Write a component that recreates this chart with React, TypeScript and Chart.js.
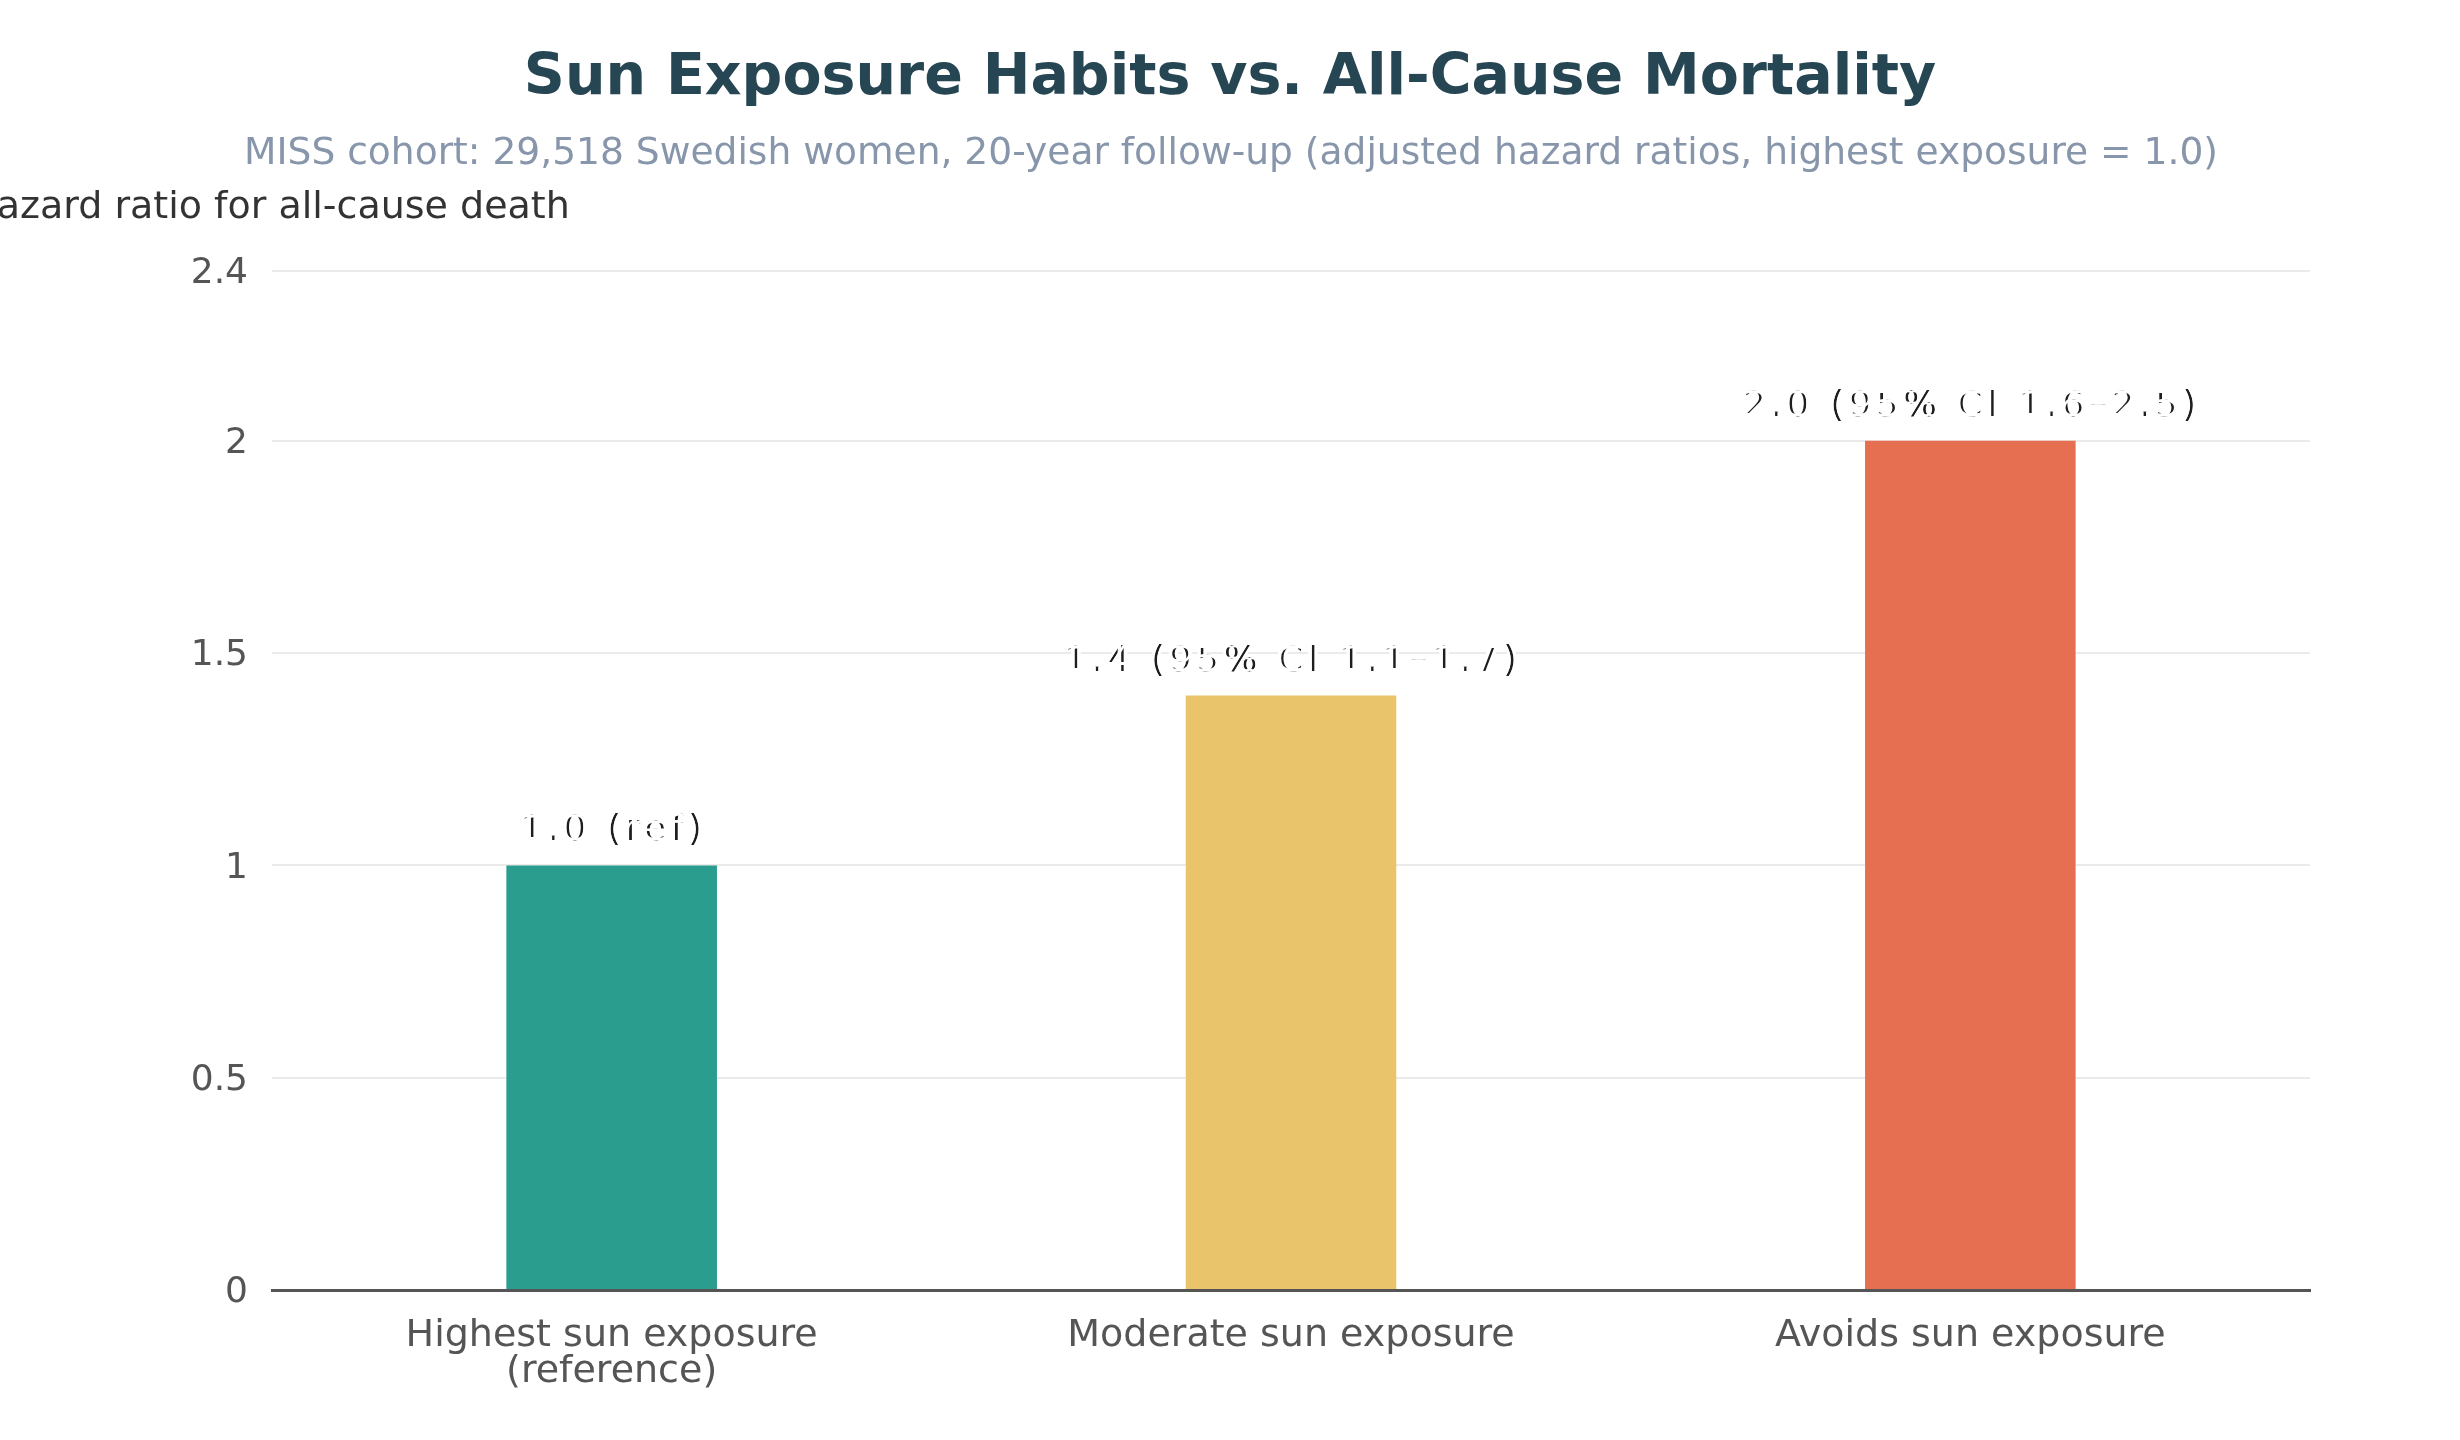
import { useEffect, useRef } from 'react';
import { Chart, registerables } from 'chart.js';

Chart.register(...registerables);

const categories = [['Highest sun exposure', '(reference)'], 'Moderate sun exposure', 'Avoids sun exposure'];
const hazardRatios = [1.0, 1.4, 2.0];
const barLabels = ['1.0 (ref)', '1.4 (95% CI 1.1–1.7)', '2.0 (95% CI 1.6–2.5)'];
const barColors = ['#2a9d8f', '#e9c46a', '#e76f51'];

const titleText = 'Sun Exposure Habits vs. All-Cause Mortality';
const subtitleText = 'MISS cohort: 29,518 Swedish women, 20-year follow-up (adjusted hazard ratios, highest exposure = 1.0)';
const yTitleText = 'Hazard ratio for all-cause death';
const yMax = 2.4;
const yStep = 0.5;

const FONT = '"DejaVu Sans", Verdana, sans-serif';

// titles + horizontal y-axis title
const headerPlugin = {
  id: 'header',
  afterDraw(chart: Chart) {
    const { ctx, chartArea } = chart;
    const cx = chart.width / 2;
    ctx.save();
    ctx.textAlign = 'center';
    ctx.textBaseline = 'alphabetic';
    ctx.fillStyle = '#264653';
    ctx.font = `bold 57px ${FONT}`;
    ctx.fillText(titleText, cx, 94);
    ctx.fillStyle = '#8896ab';
    ctx.font = `37.6px ${FONT}`;
    ctx.fillText(subtitleText, cx + 1, 164);
    ctx.fillStyle = '#333333';
    ctx.font = `38px ${FONT}`;
    ctx.fillText(yTitleText, chartArea.left - 3, 218);
    ctx.restore();
  },
};

// value labels above bars
const barLabelPlugin = {
  id: 'barLabels',
  afterDatasetsDraw(chart: Chart) {
    const { ctx } = chart;
    const meta = chart.getDatasetMeta(0);
    ctx.save();
    ctx.font = `35px ${FONT}`;
    (ctx as any).letterSpacing = '5px';
    ctx.textAlign = 'center';
    ctx.textBaseline = 'alphabetic';
    meta.data.forEach((bar: any, i: number) => {
      const x = bar.x + 2;
      const y = bar.y - 25;
      ctx.fillStyle = '#1e1e1e';
      ctx.fillText(barLabels[i], x, y);
      ctx.fillStyle = '#ffffff';
      ctx.fillText(barLabels[i], x - 3, y);
      ctx.fillText(barLabels[i], x + 3, y);
    });
    ctx.restore();
  },
};

const App = () => {
  const canvasRef = useRef<HTMLCanvasElement>(null);

  useEffect(() => {
    if (!canvasRef.current) return;

    const chart = new Chart(canvasRef.current, {
      type: 'bar',
      data: {
        labels: categories,
        datasets: [
          {
            data: hazardRatios,
            backgroundColor: barColors,
            borderWidth: 0,
            categoryPercentage: 1,
            barPercentage: 0.31,
          },
        ],
      },
      options: {
        responsive: true,
        maintainAspectRatio: false,
        animation: false,
        layout: { padding: { top: 271, right: 150, bottom: 0, left: 0 } },
        plugins: {
          legend: { display: false },
          tooltip: { enabled: false },
          title: { display: false },
        },
        scales: {
          x: {
            grid: { display: false, drawTicks: false },
            border: { display: true, color: '#555555', width: 3 },
            ticks: {
              color: '#555555',
              font: { family: FONT, size: 38, lineHeight: 0.95 },
              padding: 28,
              maxRotation: 0,
            },
            afterFit: (s: any) => {
              s.height = 150;
            },
          },
          y: {
            min: 0,
            max: yMax,
            grid: { color: '#ebebeb', lineWidth: 2, drawTicks: false },
            border: { display: false },
            ticks: {
              stepSize: yStep,
              color: '#555555',
              font: { family: FONT, size: 36 },
              padding: 24,
              labelOffset: 3,
              callback: (v: any) => String(Number(v)),
            },
            afterFit: (s: any) => {
              s.width = 272;
            },
          },
        },
      },
      plugins: [headerPlugin, barLabelPlugin],
    });

    return () => {
      chart.destroy();
    };
  }, []);

  return (
    <div style={{ position: 'fixed', left: 0, top: 0, width: '100vw', height: '100vh', background: '#fff' }}>
      <canvas ref={canvasRef} />
    </div>
  );
};

export default App;
